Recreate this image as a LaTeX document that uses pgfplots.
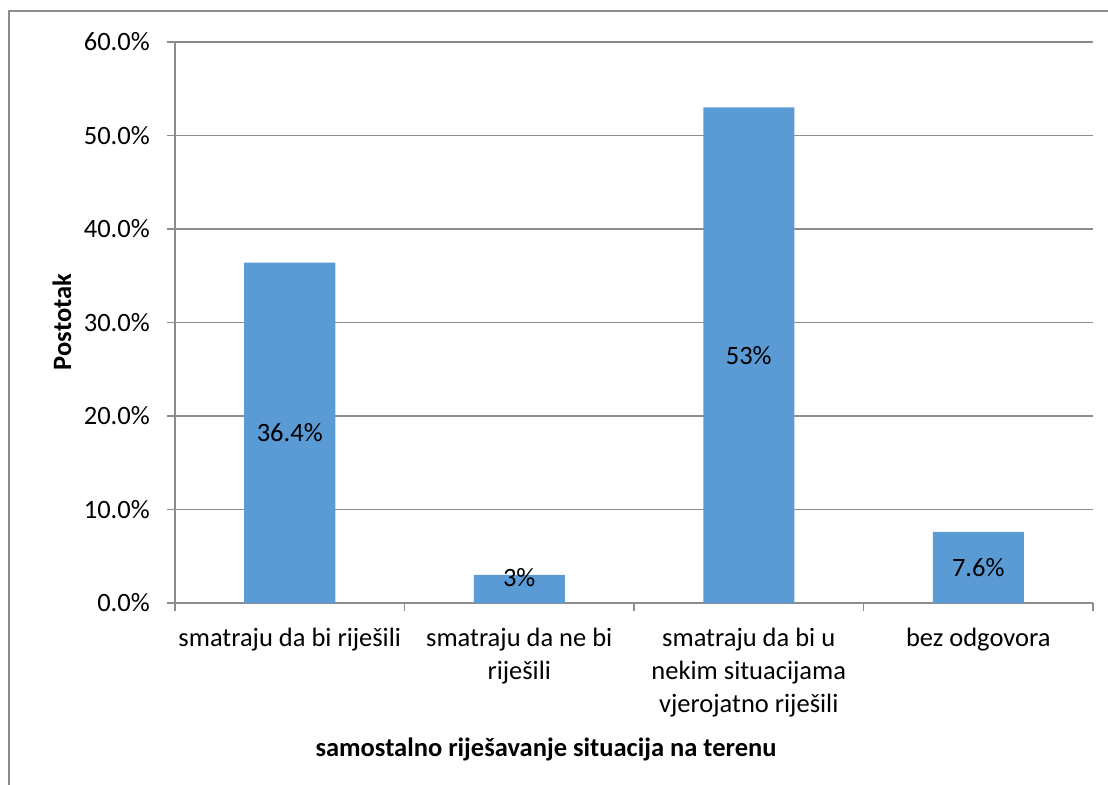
\documentclass[border=0pt]{standalone}
\usepackage{fontspec}
\setmainfont{Carlito}
\usepackage{pgfplots}
\pgfplotsset{compat=1.18}
\definecolor{barblue}{HTML}{5B9BD5}
\definecolor{gridgray}{HTML}{8C8C8C}

\begin{document}
\fontsize{13.25}{16.5}\selectfont
\begin{tikzpicture}[x=1pt,y=1pt]
% picture frame (px * 0.5pt, origin top left)
\path[use as bounding box] (0,0) rectangle (554,-392.5);
\draw[gridgray, line width=0.8pt] (554,-5.5) -- (4.5,-5.5) -- (4.5,-392.5);

\begin{axis}[
  at={(87.5pt,-301.5pt)}, anchor=south west,
  width=459pt, height=280.5pt, scale only axis,
  xmin=-0.5, xmax=3.5, ymin=0, ymax=60,
  axis x line=bottom, axis y line=left,
  axis line style={-, gridgray, line width=0.8pt},
  ytick={0,10,...,60},
  ymajorgrids, grid style={gridgray, line width=0.8pt},
  yticklabel={\pgfmathprintnumber[fixed,fixed zerofill,precision=1]{\tick}\%},
  /pgf/number format/assume math mode=true,
  ytick style={gridgray, line width=0.8pt},
  tick align=outside, major tick length=4pt,
  yticklabel style={font=\fontsize{13.25}{16.5}\selectfont, xshift=-4pt},
  xtick={0,1,2,3},
  xticklabels={{smatraju da bi riješili},{smatraju da ne bi\\riješili},{smatraju da bi u\\nekim situacijama\\vjerojatno riješili},{bez odgovora}},
  xticklabel style={align=center, font=\fontsize{13.25}{16.5}\selectfont, yshift=-4pt},
  x tick style={draw=none},
  minor xtick={-0.5,0.5,1.5,2.5,3.5},
  minor x tick style={draw=gridgray, line width=0.8pt},
  minor tick length=4pt,
]
\addplot[ybar, bar width=45.5pt, fill=barblue, draw=none] coordinates {(0,36.4) (1,3) (2,53) (3,7.6)};
\node at (axis cs:0,18.2) {36.4\%};
\node at (axis cs:1,2.7) {3\%};
\node at (axis cs:2,26.5) {53\%};
\node at (axis cs:3,3.8) {7.6\%};
\end{axis}

\node[rotate=90, font=\fontsize{13.25}{16.5}\selectfont\bfseries] at (31,-161) {Postotak};
\node[font=\fontsize{13.25}{16.5}\selectfont\bfseries] at (273,-374.5) {samostalno riješavanje situacija na terenu};
\end{tikzpicture}
\end{document}
